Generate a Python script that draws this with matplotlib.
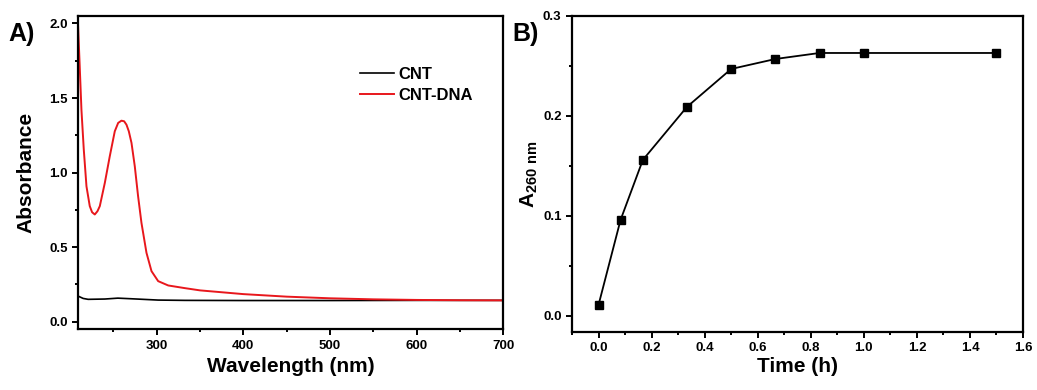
import matplotlib
matplotlib.use("Agg")
import matplotlib.pyplot as plt
from matplotlib.ticker import MultipleLocator

plt.rcParams['font.family'] = ['Liberation Sans', 'DejaVu Sans']
plt.rcParams['font.weight'] = 'bold'
plt.rcParams['mathtext.fontset'] = 'custom'
plt.rcParams['mathtext.bf'] = 'Liberation Sans:bold'
plt.rcParams['mathtext.rm'] = 'Liberation Sans:bold'

# Panel A: UV-vis spectra
wl_dna = [209, 210.7, 213, 215.7, 218.8, 222.6, 225.3, 228.4, 231.5, 234.2, 240, 245.7,
          251.5, 255.4, 259.2, 262.3, 265, 267.7, 270.8, 274.6, 278.4, 282.3, 288.1,
          293.9, 301.6, 313.2, 332.5, 350, 400, 450, 500, 550, 600, 650, 700]
abs_dna = [2.0, 1.757, 1.42, 1.154, 0.908, 0.775, 0.734, 0.719, 0.741, 0.775, 0.931, 1.109,
           1.277, 1.333, 1.348, 1.344, 1.321, 1.277, 1.199, 1.042, 0.842, 0.663, 0.462,
           0.339, 0.272, 0.243, 0.225, 0.21, 0.185, 0.168, 0.157, 0.15, 0.146, 0.144, 0.143]
wl_cnt = [209, 215, 220.7, 240, 255, 270, 301.6, 332.5, 400, 500, 600, 700]
abs_cnt = [0.172, 0.156, 0.150, 0.152, 0.158, 0.154, 0.145, 0.143, 0.142, 0.142, 0.143, 0.143]

# Panel B: A260 vs time
time_h = [0.0, 0.083, 0.167, 0.333, 0.5, 0.667, 0.833, 1.0, 1.5]
a260 = [0.011, 0.096, 0.156, 0.209, 0.247, 0.257, 0.263, 0.263, 0.263]

fig = plt.figure(figsize=(10.37, 3.9), dpi=100)
axA = fig.add_axes([0.0752, 0.156, 0.410, 0.803])
axB = fig.add_axes([0.5516, 0.149, 0.4349, 0.810])

def style(ax):
    for s in ax.spines.values():
        s.set_linewidth(1.6)
    ax.tick_params(which='both', direction='out', width=1.4, labelsize=9.5,
                   top=False, right=False)
    ax.tick_params(which='major', length=4)
    ax.tick_params(which='minor', length=2.5)

axA.plot(wl_cnt, abs_cnt, color='black', lw=1.2, label='CNT')
axA.plot(wl_dna, abs_dna, color='#e8171c', lw=1.4, label='CNT-DNA')
axA.set_xlim(209, 700)
axA.set_ylim(-0.05, 2.05)
axA.xaxis.set_major_locator(MultipleLocator(100))
axA.xaxis.set_minor_locator(MultipleLocator(50))
axA.yaxis.set_major_locator(MultipleLocator(0.5))
axA.yaxis.set_minor_locator(MultipleLocator(0.25))
style(axA)
axA.set_xlabel('Wavelength (nm)', fontsize=15, fontweight='bold', labelpad=4)
axA.set_ylabel('Absorbance', fontsize=15, fontweight='bold', labelpad=10)
axA.legend(loc='upper right', bbox_to_anchor=(0.965, 0.885), frameon=False,
           fontsize=12, handlelength=2.0, handletextpad=0.3, labelspacing=0.35)
fig.text(0.008, 0.895, 'A)', fontsize=18, fontweight='bold')

axB.plot(time_h, a260, color='black', lw=1.3, marker='s', markersize=6)
axB.set_xlim(-0.1, 1.6)
axB.set_ylim(-0.016, 0.3)
axB.xaxis.set_major_locator(MultipleLocator(0.2))
axB.xaxis.set_minor_locator(MultipleLocator(0.1))
axB.yaxis.set_major_locator(MultipleLocator(0.1))
axB.yaxis.set_minor_locator(MultipleLocator(0.05))
style(axB)
axB.set_xlabel('Time (h)', fontsize=15, fontweight='bold', labelpad=2)
axB.set_ylabel(r'$\mathbf{A_{260\ nm}}$', fontsize=15, labelpad=2)
fig.text(0.494, 0.895, 'B)', fontsize=18, fontweight='bold')

fig.savefig('out.png', dpi=100)
